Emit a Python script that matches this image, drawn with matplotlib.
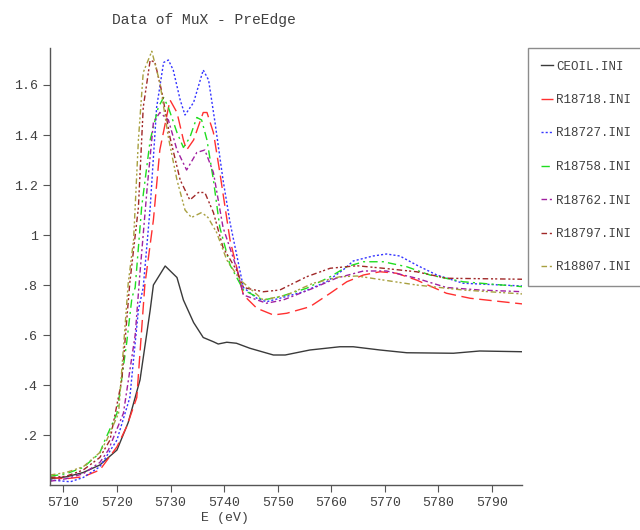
import matplotlib.pyplot as plt
from matplotlib.ticker import FixedLocator, FuncFormatter

# energies (eV) and mu values, one pair per file
e_ceoil = [5707.5, 5710.6, 5713.7, 5716.8, 5720.0, 5722.1, 5724.3, 5726.2, 5726.8, 5729.0,
           5731.2, 5732.4, 5734.3, 5736.1, 5738.0, 5738.9, 5740.5, 5742.3, 5744.8, 5749.2,
           5751.4, 5756.0, 5761.6, 5764.1, 5769.1, 5774.1, 5782.8, 5787.7, 5795.8]
mu_ceoil = [0.024, 0.033, 0.05, 0.08, 0.14, 0.25, 0.42, 0.70, 0.80, 0.876,
            0.83, 0.74, 0.65, 0.59, 0.573, 0.564, 0.571, 0.567, 0.547, 0.52,
            0.52, 0.54, 0.553, 0.553, 0.54, 0.529, 0.527, 0.536, 0.533]

e_18718 = [5707.5, 5710.5, 5713.7, 5716.8, 5720.0, 5721.8, 5723.7, 5725.2, 5726.8, 5728.0,
           5729.9, 5731.2, 5732.4, 5733.0, 5734.3, 5736.1, 5736.8, 5738.0, 5739.2, 5741.1,
           5743.6, 5746.1, 5749.2, 5751.7, 5756.0, 5759.8, 5762.9, 5766.0, 5769.1, 5772.2,
           5775.9, 5781.5, 5785.9, 5795.8]
mu_18718 = [0.03, 0.025, 0.033, 0.06, 0.153, 0.233, 0.35, 0.80, 1.06, 1.34,
            1.54, 1.49, 1.38, 1.34, 1.38, 1.49, 1.49, 1.41, 1.25, 0.98,
            0.76, 0.707, 0.68, 0.687, 0.713, 0.767, 0.813, 0.84, 0.853, 0.847,
            0.82, 0.767, 0.747, 0.724]

e_18727 = [5707.5, 5711.3, 5713.7, 5716.8, 5720.0, 5722.4, 5724.0, 5724.9, 5726.2, 5727.4,
           5728.7, 5729.6, 5730.5, 5731.8, 5732.7, 5734.3, 5736.1, 5737.1, 5738.3, 5739.8,
           5741.1, 5743.6, 5746.1, 5747.9, 5750.4, 5754.8, 5759.1, 5762.2, 5764.1, 5767.8,
           5770.3, 5772.8, 5775.9, 5779.7, 5784.6, 5795.8]
mu_18727 = [0.02, 0.013, 0.03, 0.073, 0.18, 0.35, 0.70, 0.79, 1.11, 1.51,
            1.69, 1.70, 1.66, 1.54, 1.48, 1.53, 1.66, 1.62, 1.45, 1.22,
            1.05, 0.79, 0.747, 0.733, 0.747, 0.773, 0.813, 0.86, 0.896, 0.916,
            0.924, 0.916, 0.88, 0.84, 0.807, 0.796]

e_18758 = [5707.5, 5710.5, 5713.7, 5716.8, 5717.5, 5720.0, 5721.8, 5722.8, 5723.4, 5724.6,
           5726.2, 5727.7, 5728.7, 5729.6, 5731.2, 5732.4, 5733.6, 5734.9, 5735.8, 5736.8,
           5738.0, 5739.2, 5741.1, 5743.6, 5747.3, 5750.4, 5755.4, 5759.8, 5762.9, 5766.0,
           5769.7, 5774.1, 5778.4, 5784.6, 5795.8]
mu_18758 = [0.035, 0.045, 0.07, 0.128, 0.167, 0.287, 0.567, 0.75, 0.79, 1.11,
            1.38, 1.51, 1.55, 1.51, 1.41, 1.35, 1.39, 1.47, 1.46, 1.38,
            1.22, 1.03, 0.88, 0.78, 0.74, 0.753, 0.787, 0.833, 0.873, 0.893,
            0.893, 0.873, 0.84, 0.813, 0.793]

e_18762 = [5707.5, 5710.5, 5713.7, 5716.8, 5718.4, 5721.2, 5723.4, 5724.3, 5725.6, 5726.8,
           5728.0, 5729.6, 5731.2, 5733.0, 5734.9, 5736.4, 5738.0, 5739.8, 5742.3, 5743.6,
           5747.9, 5751.0, 5756.6, 5760.9, 5766.0, 5770.3, 5775.9, 5781.5, 5787.7, 5795.8]
mu_18762 = [0.015, 0.025, 0.045, 0.09, 0.14, 0.287, 0.60, 0.85, 1.18, 1.45,
            1.49, 1.46, 1.34, 1.26, 1.33, 1.34, 1.25, 1.03, 0.87, 0.76,
            0.727, 0.74, 0.787, 0.827, 0.856, 0.856, 0.827, 0.79, 0.78, 0.773]

e_18797 = [5707.5, 5710.5, 5713.7, 5716.8, 5718.7, 5720.9, 5722.4, 5724.0, 5724.9, 5726.2,
           5727.1, 5728.4, 5729.9, 5731.8, 5733.6, 5735.2, 5736.4, 5738.0, 5739.8, 5742.3,
           5743.6, 5747.3, 5750.4, 5755.4, 5759.8, 5764.8, 5769.7, 5775.9, 5781.5, 5795.8]
mu_18797 = [0.03, 0.035, 0.06, 0.11, 0.18, 0.42, 0.81, 1.11, 1.51, 1.70,
            1.69, 1.57, 1.39, 1.22, 1.14, 1.17, 1.17, 1.09, 0.95, 0.86,
            0.79, 0.773, 0.78, 0.833, 0.867, 0.877, 0.867, 0.853, 0.827, 0.823]

e_18807 = [5707.5, 5710.5, 5713.7, 5716.8, 5718.1, 5720.3, 5722.1, 5723.1, 5724.0, 5724.9,
           5726.5, 5728.0, 5729.6, 5731.2, 5732.7, 5733.9, 5735.8, 5737.0, 5738.6, 5740.5,
           5743.0, 5747.3, 5751.7, 5756.6, 5761.6, 5764.8, 5769.7, 5775.9, 5784.6, 5795.8]
mu_18807 = [0.04, 0.05, 0.073, 0.13, 0.18, 0.287, 0.807, 0.98, 1.38, 1.65,
            1.735, 1.61, 1.39, 1.22, 1.10, 1.07, 1.09, 1.07, 1.01, 0.90,
            0.82, 0.74, 0.76, 0.807, 0.833, 0.836, 0.82, 0.80, 0.78, 0.764]

labels = ["CEOIL.INI", "R18718.INI", "R18727.INI", "R18758.INI",
          "R18762.INI", "R18797.INI", "R18807.INI"]
x_ticks = [5710, 5720, 5730, 5740, 5750, 5760, 5770, 5780, 5790]
y_ticks = [0.2, 0.4, 0.6, 0.8, 1.0, 1.2, 1.4, 1.6]

series = [(e_ceoil, mu_ceoil), (e_18718, mu_18718), (e_18727, mu_18727),
          (e_18758, mu_18758), (e_18762, mu_18762), (e_18797, mu_18797),
          (e_18807, mu_18807)]
colors = ["#3a3a3a", "#ff3030", "#3535ff", "#20dd20", "#a020a0", "#a02828", "#a8a040"]
styles = ["-", (0, (9, 4)), (0, (1.5, 1.5)), (0, (6, 3, 1.5, 3)),
          (0, (4, 2, 1.5, 2)), (0, (4, 2, 1.5, 1.5, 1.5, 2)), (0, (4, 2, 1.5, 1.5, 1.5, 2))]

plt.rcParams['font.family'] = ['Liberation Mono', 'DejaVu Sans Mono']
txt = "#404040"

fig = plt.figure(figsize=(6.4, 5.3), dpi=100)
ax = fig.add_axes([50 / 640, 45 / 530, 472 / 640, 437 / 530])

for (e, mu), c, ls, lab in zip(series, colors, styles, labels):
    ax.plot(e, mu, color=c, linestyle=ls, linewidth=1.0, label=lab)

ax.set_xlim(5707.5, 5795.6)
ax.set_ylim(0.0, 1.748)
ax.xaxis.set_major_locator(FixedLocator(x_ticks))
ax.yaxis.set_major_locator(FixedLocator(y_ticks))
ax.yaxis.set_major_formatter(FuncFormatter(
    lambda v, p: ("%g" % round(v, 1)).lstrip("0") if v < 1 else "%g" % round(v, 1)))
ax.tick_params(direction="out", length=5, width=0.8, colors="#555555",
               labelcolor=txt, labelsize=9.5)
for s in ["top", "right"]:
    ax.spines[s].set_visible(False)
for s in ["left", "bottom"]:
    ax.spines[s].set_color("#555555")
    ax.spines[s].set_linewidth(1.0)

ax.set_xlabel("E (eV)", fontsize=9.5, color=txt, labelpad=2, x=0.37)
fig.text(204 / 640, 1 - 20 / 530, "Data of MuX - PreEdge", ha="center", va="center",
         fontsize=10.5, color=txt)

leg = fig.legend(loc="upper left", bbox_to_anchor=(528 / 640, 1 - 48 / 530),
                 fontsize=9.0, frameon=True, fancybox=False, handlelength=1.0,
                 handletextpad=0.25, labelspacing=1.72, borderpad=1.0, borderaxespad=0)
leg.get_frame().set_edgecolor("#707070")
leg.get_frame().set_linewidth(1.0)
for t in leg.get_texts():
    t.set_color(txt)

fig.savefig("out.png", dpi=100)
